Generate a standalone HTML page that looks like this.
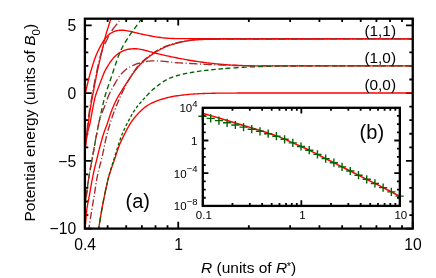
<!DOCTYPE html>
<html><head><meta charset="utf-8"><title>Potential energy curves</title><style>html,body{margin:0;padding:0;background:#fff;overflow:hidden}body{width:436px;height:278px;font-family:"Liberation Sans",sans-serif}svg{display:block;will-change:transform}</style></head><body>
<svg width="436" height="278" viewBox="0 0 436 278"><defs><clipPath id="cm"><rect x="84.9" y="18.7" width="327.85" height="209.9"/></clipPath></defs><rect width="436" height="278" fill="#fff"/><path d="M84.9,228.6h6.8M412.75,228.6h-6.8M84.9,215.05h3.4M412.75,215.05h-3.4M84.9,201.49h3.4M412.75,201.49h-3.4M84.9,187.94h3.4M412.75,187.94h-3.4M84.9,174.39h3.4M412.75,174.39h-3.4M84.9,160.83h6.8M412.75,160.83h-6.8M84.9,147.28h3.4M412.75,147.28h-3.4M84.9,133.73h3.4M412.75,133.73h-3.4M84.9,120.18h3.4M412.75,120.18h-3.4M84.9,106.62h3.4M412.75,106.62h-3.4M84.9,93.07h6.8M412.75,93.07h-6.8M84.9,79.52h3.4M412.75,79.52h-3.4M84.9,65.96h3.4M412.75,65.96h-3.4M84.9,52.41h3.4M412.75,52.41h-3.4M84.9,38.86h3.4M412.75,38.86h-3.4M84.9,25.3h6.8M412.75,25.3h-6.8M84.9,228.6v-6.8M84.9,18.7v6.8M107.63,228.6v-3.4M107.63,18.7v3.4M126.2,228.6v-3.4M126.2,18.7v3.4M141.9,228.6v-3.4M141.9,18.7v3.4M155.5,228.6v-3.4M155.5,18.7v3.4M167.5,228.6v-3.4M167.5,18.7v3.4M178.23,228.6v-6.8M178.23,18.7v6.8M248.83,228.6v-3.4M248.83,18.7v3.4M290.12,228.6v-3.4M290.12,18.7v3.4M319.42,228.6v-3.4M319.42,18.7v3.4M342.15,228.6v-3.4M342.15,18.7v3.4M360.72,228.6v-3.4M360.72,18.7v3.4M376.42,228.6v-3.4M376.42,18.7v3.4M390.02,228.6v-3.4M390.02,18.7v3.4M402.02,228.6v-3.4M402.02,18.7v3.4M412.75,228.6v-6.8M412.75,18.7v6.8" stroke="#000" stroke-width="1.8" fill="none"/>
<g fill="none" clip-path="url(#cm)" stroke-linejoin="round">
<path d="M83.99,240L84.14,238.5L84.28,237L84.41,235.49L84.53,233.99L84.66,232.49L84.8,230.98L84.94,229.48L85.08,227.98L85.23,226.48L85.38,224.98L85.53,223.48L85.67,221.98L85.8,220.48L85.92,218.97L86.04,217.46L86.17,215.96L86.3,214.46L86.44,212.95L86.61,211.46L86.78,209.96L86.98,208.47L87.2,206.98L87.43,205.49L87.68,204L87.96,202.52L88.25,201.04L88.55,199.56L88.85,198.08L89.15,196.6L89.44,195.12L89.72,193.64L89.98,192.15L90.23,190.66L90.48,189.17L90.72,187.68L90.97,186.2L91.23,184.71L91.49,183.23L91.77,181.74L92.05,180.26L92.35,178.78L92.64,177.31L92.95,175.83L93.26,174.35L93.58,172.88L93.9,171.41L94.23,169.94L94.57,168.47L94.91,167L95.26,165.53L95.61,164.06L95.97,162.6L96.33,161.13L96.69,159.67L97.06,158.2L97.42,156.74L97.78,155.27L98.14,153.81L98.5,152.34L98.87,150.88L99.24,149.42L99.61,147.95L99.99,146.49L100.37,145.03L100.76,143.57L101.15,142.11L101.55,140.66L101.95,139.21L102.36,137.76L102.79,136.31L103.23,134.87L103.69,133.44L104.18,132.02L104.69,130.6L105.22,129.18L105.76,127.77L106.3,126.36L106.82,124.94L107.33,123.52L107.82,122.09L108.28,120.66L108.73,119.22L109.18,117.78L109.64,116.35L110.11,114.91L110.6,113.48L111.11,112.06L111.64,110.65L112.19,109.24L112.76,107.84L113.34,106.44L113.93,105.06L114.54,103.68L115.17,102.31L115.82,100.96L116.49,99.61L117.19,98.28L117.91,96.96L118.66,95.64L119.43,94.34L120.22,93.05L121.01,91.77L121.82,90.49L122.63,89.21L123.44,87.94L124.26,86.67L125.07,85.4L125.89,84.14L126.71,82.86L127.54,81.59L128.36,80.31L129.19,79.04L130.02,77.77L130.87,76.5L131.72,75.25L132.58,74.01L133.45,72.79L134.34,71.58L135.25,70.38L136.18,69.21L137.13,68.04L138.1,66.9L139.1,65.77L140.12,64.66L141.16,63.57L142.24,62.5L143.33,61.46L144.45,60.45L145.59,59.46L146.75,58.51L147.93,57.57L149.13,56.66L150.35,55.76L151.58,54.88L152.82,54.02L154.07,53.17L155.34,52.34L156.62,51.53L157.91,50.75L159.22,50L160.54,49.27L161.88,48.58L163.23,47.92L164.6,47.3L165.99,46.71L167.39,46.15L168.81,45.64L170.24,45.15L171.68,44.7L173.13,44.26L174.58,43.85L176.04,43.45L177.5,43.06L178.97,42.68L180.43,42.31L181.9,41.96L183.37,41.63L184.85,41.33L186.33,41.04L187.82,40.79L189.31,40.55L190.81,40.34L192.31,40.16L193.81,40.01L195.31,39.88L196.81,39.77L198.32,39.68L199.82,39.61L201.33,39.55L202.84,39.5L204.35,39.45L205.85,39.41L207.36,39.37L208.87,39.34L210.38,39.31L211.89,39.29L213.4,39.26L214.9,39.25L216.41,39.23L217.92,39.22L219.43,39.2L220.94,39.19L222.45,39.19L223.95,39.18L225.46,39.17L226.97,39.17L228.48,39.17L229.99,39.16L231.5,39.16L233,39.15L234.51,39.15L236.02,39.15L237.53,39.14L239.04,39.14L240.55,39.14L242.05,39.13L243.56,39.13L245.07,39.13L246.58,39.13L248.09,39.12L249.6,39.12L251.1,39.12L252.61,39.12L254.12,39.11L255.63,39.11L257.14,39.11L258.65,39.1L260.15,39.1L261.66,39.1L263.17,39.09L264.68,39.09L266.19,39.08L267.7,39.08L269.2,39.08L270.71,39.07L272.22,39.07L273.73,39.06L275.24,39.06L276.74,39.06L278.25,39.05L279.76,39.05L281.27,39.05L282.78,39.04L284.29,39.04L285.79,39.03L287.3,39.03L288.81,39.03L290.32,39.02L291.83,39.02L293.34,39.02L294.84,39.01L296.35,39.01L297.86,39L299.37,39L300.88,39L302.39,38.99L303.89,38.99L305.4,38.99L306.91,38.98L308.42,38.98L309.93,38.98L311.44,38.97L312.94,38.97L314.45,38.97L315.96,38.96L317.47,38.96L318.98,38.96L320.49,38.95L321.99,38.95L323.5,38.95L325.01,38.94L326.52,38.94L328.03,38.94L329.54,38.93L331.04,38.93L332.55,38.93L334.06,38.92L335.57,38.92L337.08,38.92L338.59,38.92L340.09,38.91L341.6,38.91L343.11,38.91L344.62,38.91L346.13,38.9L347.63,38.9L349.14,38.9L350.65,38.9L352.16,38.9L353.67,38.9L355.18,38.89L356.68,38.89L358.19,38.89L359.7,38.89L361.21,38.89L362.72,38.89L364.23,38.88L365.73,38.88L367.24,38.88L368.75,38.88L370.26,38.88L371.77,38.88L373.28,38.87L374.78,38.87L376.29,38.87L377.8,38.87L379.31,38.87L380.82,38.87L382.33,38.87L383.83,38.87L385.34,38.86L386.85,38.86L388.36,38.86L389.87,38.86L391.38,38.86L392.88,38.86L394.39,38.86L395.9,38.86L397.41,38.86L398.92,38.85L400.43,38.85L401.93,38.85L403.44,38.85L404.95,38.85L406.46,38.85L407.97,38.85L409.48,38.85L410.98,38.85L412.49,38.85L414,38.85" stroke="#ff0000" stroke-width="1.35"/>
<path d="M84,100L84.29,98.52L84.59,97.03L84.9,95.55L85.21,94.08L85.53,92.6L85.85,91.13L86.18,89.65L86.51,88.18L86.85,86.7L87.2,85.23L87.55,83.75L87.9,82.28L88.26,80.82L88.62,79.35L88.99,77.89L89.37,76.42L89.76,74.97L90.16,73.51L90.58,72.06L91,70.61L91.44,69.16L91.89,67.71L92.34,66.27L92.8,64.82L93.26,63.38L93.72,61.94L94.2,60.5L94.69,59.07L95.2,57.65L95.74,56.24L96.31,54.84L96.9,53.45L97.53,52.07L98.18,50.71L98.85,49.35L99.53,48.01L100.22,46.67L100.93,45.34L101.66,44.03L102.41,42.73L103.2,41.45L104.03,40.19L104.92,38.96L105.86,37.76L106.87,36.61L107.93,35.52L109.06,34.5L110.25,33.58L111.52,32.76L112.84,32.06L114.22,31.47L115.65,31L117.11,30.64L118.6,30.38L120.1,30.24L121.61,30.19L123.12,30.24L124.63,30.36L126.14,30.55L127.64,30.8L129.13,31.1L130.61,31.43L132.07,31.78L133.54,32.15L135,32.53L136.46,32.91L137.92,33.27L139.39,33.62L140.86,33.95L142.34,34.27L143.82,34.58L145.31,34.87L146.79,35.17L148.28,35.46L149.76,35.75L151.25,36.03L152.73,36.31L154.22,36.57L155.71,36.83L157.2,37.06L158.7,37.28L160.19,37.49L161.69,37.67L163.19,37.84L164.7,37.99L166.2,38.12L167.71,38.24L169.22,38.34L170.73,38.42L172.24,38.48L173.75,38.54L175.26,38.58L176.77,38.61L178.28,38.63L179.79,38.65L181.3,38.66L182.81,38.67L184.32,38.67L185.83,38.68L187.35,38.69L188.86,38.69L190.37,38.7L191.88,38.7L193.39,38.7L194.9,38.7L196.41,38.69L197.92,38.68L199.43,38.67L200.95,38.66L202.46,38.65L203.97,38.64L205.48,38.63L206.99,38.62L208.5,38.6L210.01,38.59L211.52,38.58L213.03,38.57L214.54,38.57L216.06,38.56L217.57,38.56L219.08,38.55L220.59,38.55L222.1,38.55L223.61,38.55L225.12,38.55L226.63,38.55L228.14,38.55L229.65,38.56L231.17,38.56L232.68,38.56L234.19,38.56L235.7,38.56L237.21,38.56L238.72,38.56L240.23,38.57L241.74,38.57L243.25,38.57L244.77,38.57L246.28,38.58L247.79,38.58L249.3,38.58L250.81,38.58L252.32,38.59L253.83,38.59L255.34,38.59L256.85,38.59L258.36,38.6L259.88,38.6L261.39,38.6L262.9,38.61L264.41,38.61L265.92,38.61L267.43,38.61L268.94,38.62L270.45,38.62L271.96,38.63L273.47,38.63L274.99,38.63L276.5,38.64L278.01,38.64L279.52,38.65L281.03,38.65L282.54,38.65L284.05,38.66L285.56,38.66L287.07,38.67L288.58,38.67L290.1,38.68L291.61,38.68L293.12,38.68L294.63,38.69L296.14,38.69L297.65,38.69L299.16,38.7L300.67,38.7L302.18,38.7L303.7,38.71L305.21,38.71L306.72,38.72L308.23,38.72L309.74,38.72L311.25,38.73L312.76,38.73L314.27,38.73L315.78,38.74L317.29,38.74L318.81,38.74L320.32,38.75L321.83,38.75L323.34,38.75L324.85,38.76L326.36,38.76L327.87,38.76L329.38,38.77L330.89,38.77L332.4,38.77L333.92,38.77L335.43,38.78L336.94,38.78L338.45,38.78L339.96,38.79L341.47,38.79L342.98,38.79L344.49,38.79L346,38.79L347.51,38.8L349.03,38.8L350.54,38.8L352.05,38.8L353.56,38.8L355.07,38.81L356.58,38.81L358.09,38.81L359.6,38.81L361.11,38.81L362.63,38.81L364.14,38.82L365.65,38.82L367.16,38.82L368.67,38.82L370.18,38.82L371.69,38.82L373.2,38.83L374.71,38.83L376.22,38.83L377.74,38.83L379.25,38.83L380.76,38.83L382.27,38.83L383.78,38.83L385.29,38.84L386.8,38.84L388.31,38.84L389.82,38.84L391.33,38.84L392.85,38.84L394.36,38.84L395.87,38.84L397.38,38.84L398.89,38.85L400.4,38.85L401.91,38.85L403.42,38.85L404.93,38.85L406.44,38.85L407.96,38.85L409.47,38.85L410.98,38.85L412.49,38.85L414,38.85" stroke="#ff0000" stroke-width="1.35"/>
<path d="M88.6,232L88.74,230.5L88.89,229L89.06,227.5L89.25,226.01L89.45,224.52L89.67,223.02L89.9,221.53L90.13,220.05L90.38,218.56L90.63,217.07L90.88,215.58L91.13,214.1L91.38,212.61L91.63,211.12L91.88,209.63L92.12,208.15L92.37,206.66L92.61,205.17L92.86,203.69L93.1,202.2L93.35,200.71L93.6,199.22L93.84,197.74L94.08,196.25L94.31,194.76L94.55,193.27L94.77,191.78L95,190.28L95.23,188.79L95.45,187.3L95.68,185.81L95.92,184.32L96.16,182.83L96.4,181.35L96.66,179.87L96.93,178.38L97.22,176.91L97.52,175.43L97.84,173.96L98.17,172.49L98.52,171.03L98.88,169.56L99.24,168.1L99.62,166.64L100,165.18L100.39,163.72L100.77,162.26L101.14,160.8L101.51,159.34L101.86,157.87L102.2,156.4L102.54,154.93L102.86,153.46L103.17,151.98L103.48,150.51L103.78,149.03L104.08,147.55L104.38,146.07L104.68,144.59L104.98,143.11L105.28,141.64L105.6,140.17L105.93,138.7L106.26,137.23L106.61,135.76L106.98,134.3L107.36,132.85L107.76,131.39L108.17,129.94L108.6,128.5L109.03,127.05L109.47,125.61L109.91,124.17L110.36,122.73L110.81,121.29L111.26,119.85L111.72,118.42L112.19,116.99L112.68,115.56L113.18,114.14L113.7,112.72L114.23,111.31L114.78,109.9L115.33,108.5L115.89,107.1L116.46,105.7L117.03,104.31L117.61,102.92L118.2,101.53L118.79,100.15L119.39,98.76L120,97.38L120.61,96L121.23,94.62L121.86,93.24L122.51,91.88L123.16,90.52L123.82,89.17L124.5,87.83L125.19,86.5L125.89,85.17L126.61,83.84L127.33,82.51L128.07,81.19L128.82,79.86L129.58,78.53L130.35,77.21L131.14,75.91L131.93,74.61L132.74,73.33L133.56,72.08L134.4,70.84L135.27,69.62L136.16,68.42L137.08,67.25L138.03,66.1L139.02,64.97L140.05,63.86L141.1,62.78L142.19,61.73L143.29,60.7L144.43,59.7L145.58,58.72L146.75,57.77L147.94,56.85L149.15,55.94L150.37,55.05L151.6,54.18L152.84,53.32L154.1,52.48L155.37,51.66L156.66,50.87L157.96,50.1L159.27,49.36L160.6,48.66L161.95,47.98L163.31,47.34L164.69,46.73L166.08,46.15L167.49,45.61L168.91,45.11L170.34,44.63L171.78,44.19L173.23,43.76L174.69,43.36L176.15,42.97L177.61,42.59L179.08,42.23L180.55,41.88L182.02,41.55L183.5,41.25L184.98,40.96L186.46,40.7L187.95,40.46L189.45,40.25L190.95,40.07L192.44,39.91L193.95,39.77L195.45,39.66L196.95,39.57L198.46,39.5L199.96,39.44L201.47,39.39L202.98,39.35L204.48,39.32L205.99,39.28L207.5,39.25L209.01,39.22L210.51,39.2L212.02,39.17L213.53,39.15L215.04,39.14L216.54,39.12L218.05,39.11L219.56,39.1L221.07,39.1L222.57,39.09L224.08,39.08L225.59,39.08L227.09,39.07L228.6,39.07L230.11,39.06L231.62,39.06L233.12,39.05L234.63,39.05L236.14,39.04L237.65,39.04L239.15,39.04L240.66,39.03L242.17,39.03L243.67,39.03L245.18,39.02L246.69,39.02L248.2,39.02L249.7,39.02L251.21,39.01L252.72,39.01L254.23,39.01L255.73,39.01L257.24,39L258.75,39L260.26,39L261.76,39L263.27,38.99L264.78,38.99L266.28,38.99L267.79,38.99L269.3,38.99L270.81,38.98L272.31,38.98L273.82,38.98L275.33,38.98L276.84,38.98L278.34,38.98L279.85,38.97L281.36,38.97L282.86,38.97L284.37,38.97L285.88,38.97L287.39,38.97L288.89,38.96L290.4,38.96L291.91,38.96L293.42,38.96L294.92,38.96L296.43,38.96L297.94,38.95L299.45,38.95L300.95,38.95L302.46,38.95L303.97,38.94L305.47,38.94L306.98,38.94L308.49,38.93L310,38.93L311.5,38.93L313.01,38.92L314.52,38.92L316.03,38.91L317.53,38.91L319.04,38.91L320.55,38.9L322.05,38.9L323.56,38.89L325.07,38.89L326.58,38.89L328.08,38.88L329.59,38.88L331.1,38.88L332.61,38.87L334.11,38.87L335.62,38.87L337.13,38.86L338.63,38.86L340.14,38.86L341.65,38.86L343.16,38.85L344.66,38.85L346.17,38.85L347.68,38.85L349.19,38.85L350.69,38.85L352.2,38.85L353.71,38.85L355.22,38.85L356.72,38.85L358.23,38.85L359.74,38.85L361.24,38.85L362.75,38.85L364.26,38.85L365.77,38.85L367.27,38.85L368.78,38.85L370.29,38.85L371.8,38.85L373.3,38.85L374.81,38.85L376.32,38.85L377.82,38.85L379.33,38.85L380.84,38.85L382.35,38.85L383.85,38.85L385.36,38.85L386.87,38.85L388.38,38.85L389.88,38.85L391.39,38.85L392.9,38.85L394.41,38.85L395.91,38.85L397.42,38.85L398.93,38.85L400.43,38.85L401.94,38.85L403.45,38.85L404.96,38.85L406.46,38.85L407.97,38.85L409.48,38.85L410.99,38.85L412.49,38.85L414,38.85" stroke="#a52a2a" stroke-width="1.35" stroke-dasharray="7.3,2.2,1.2,2.2"/>
<path d="M98,232L98.26,230.51L98.52,229.03L98.78,227.54L99.03,226.06L99.28,224.57L99.53,223.08L99.78,221.59L100.03,220.1L100.28,218.62L100.53,217.13L100.78,215.64L101.03,214.15L101.28,212.67L101.54,211.18L101.8,209.69L102.06,208.21L102.33,206.72L102.6,205.24L102.88,203.76L103.16,202.28L103.45,200.8L103.74,199.32L104.03,197.84L104.33,196.36L104.63,194.88L104.94,193.4L105.24,191.92L105.55,190.44L105.87,188.96L106.19,187.49L106.51,186.01L106.84,184.54L107.18,183.07L107.53,181.6L107.88,180.14L108.26,178.68L108.64,177.23L109.04,175.78L109.46,174.33L109.89,172.89L110.34,171.45L110.81,170.02L111.29,168.59L111.79,167.17L112.29,165.74L112.8,164.32L113.31,162.89L113.81,161.47L114.31,160.04L114.8,158.61L115.28,157.18L115.76,155.75L116.24,154.32L116.71,152.88L117.18,151.45L117.66,150.02L118.15,148.59L118.65,147.17L119.17,145.76L119.73,144.36L120.31,142.97L120.92,141.59L121.55,140.22L122.2,138.86L122.87,137.5L123.54,136.15L124.21,134.79L124.88,133.44L125.56,132.08L126.25,130.74L126.95,129.4L127.67,128.07L128.4,126.75L129.15,125.44L129.92,124.14L130.73,122.87L131.56,121.61L132.42,120.38L133.33,119.18L134.26,118L135.23,116.84L136.22,115.7L137.24,114.58L138.27,113.47L139.33,112.37L140.4,111.3L141.49,110.25L142.61,109.23L143.76,108.24L144.93,107.3L146.14,106.4L147.39,105.55L148.66,104.75L149.96,104L151.29,103.29L152.65,102.63L154.02,102.02L155.42,101.45L156.84,100.91L158.26,100.41L159.7,99.93L161.14,99.46L162.58,99.01L164.03,98.57L165.48,98.16L166.94,97.76L168.4,97.39L169.86,97.05L171.34,96.75L172.82,96.47L174.31,96.21L175.8,95.98L177.29,95.76L178.79,95.55L180.28,95.35L181.78,95.16L183.28,94.97L184.78,94.8L186.28,94.63L187.78,94.48L189.28,94.33L190.78,94.2L192.28,94.09L193.79,93.98L195.29,93.88L196.8,93.8L198.3,93.72L199.81,93.65L201.32,93.6L202.83,93.54L204.34,93.49L205.84,93.45L207.35,93.4L208.86,93.36L210.37,93.32L211.87,93.28L213.38,93.25L214.89,93.22L216.4,93.19L217.91,93.17L219.42,93.15L220.92,93.13L222.43,93.11L223.94,93.1L225.45,93.09L226.96,93.08L228.47,93.08L229.97,93.07L231.48,93.06L232.99,93.06L234.5,93.05L236.01,93.05L237.52,93.04L239.02,93.04L240.53,93.03L242.04,93.03L243.55,93.02L245.06,93.02L246.57,93.01L248.08,93.01L249.58,93.01L251.09,93.01L252.6,93.01L254.11,93L255.62,93L257.13,93L258.63,93L260.14,93L261.65,93L263.16,93L264.67,93L266.18,93L267.68,93L269.19,93L270.7,93L272.21,93L273.72,93L275.23,93L276.73,93L278.24,93L279.75,93L281.26,93L282.77,93L284.28,93L285.79,93L287.29,93L288.8,93L290.31,93L291.82,93L293.33,93L294.84,93L296.34,93L297.85,93L299.36,93L300.87,93L302.38,93L303.89,93L305.39,93L306.9,93L308.41,93L309.92,93L311.43,93L312.94,93L314.45,93L315.95,93L317.46,93L318.97,93L320.48,93L321.99,93L323.5,93L325,93L326.51,93L328.02,93L329.53,93L331.04,93L332.55,93L334.05,93L335.56,93L337.07,93L338.58,93L340.09,93L341.6,93L343.1,93L344.61,93L346.12,93L347.63,93L349.14,93L350.65,93L352.16,93L353.66,93L355.17,93L356.68,93L358.19,93L359.7,93L361.21,93L362.71,93L364.22,93L365.73,93L367.24,93L368.75,93L370.26,93L371.76,93L373.27,93L374.78,93L376.29,93L377.8,93L379.31,93L380.82,93L382.32,93L383.83,93L385.34,93L386.85,93L388.36,93L389.87,93L391.37,93L392.88,93L394.39,93L395.9,93L397.41,93L398.92,93L400.42,93L401.93,93L403.44,93L404.95,93L406.46,93L407.97,93L409.47,93L410.98,93L412.49,93L414,93" stroke="#ff0000" stroke-width="1.35"/>
<path d="M84,160L84.14,158.5L84.29,156.99L84.44,155.49L84.59,153.99L84.75,152.49L84.91,150.99L85.09,149.49L85.26,147.99L85.44,146.49L85.63,144.99L85.81,143.49L86,141.99L86.18,140.49L86.38,138.99L86.58,137.5L86.81,136.01L87.08,134.52L87.38,133.05L87.73,131.58L88.12,130.12L88.53,128.66L88.95,127.21L89.36,125.75L89.75,124.29L90.09,122.82L90.4,121.34L90.68,119.86L90.95,118.37L91.2,116.89L91.46,115.4L91.72,113.91L92,112.42L92.28,110.94L92.57,109.45L92.86,107.97L93.15,106.48L93.43,104.99L93.72,103.5L94,102.01L94.31,100.52L94.64,99.05L94.99,97.58L95.39,96.13L95.83,94.7L96.3,93.28L96.8,91.86L97.31,90.45L97.84,89.05L98.38,87.63L98.92,86.22L99.47,84.8L100.01,83.38L100.54,81.96L101.08,80.54L101.6,79.12L102.13,77.71L102.65,76.3L103.2,74.9L103.77,73.51L104.37,72.14L105.02,70.78L105.72,69.44L106.46,68.12L107.24,66.81L108.05,65.52L108.88,64.25L109.72,62.98L110.57,61.73L111.44,60.51L112.35,59.31L113.3,58.14L114.3,57.03L115.36,55.96L116.49,54.95L117.69,54.01L118.94,53.13L120.24,52.33L121.58,51.6L122.95,50.96L124.36,50.4L125.79,49.92L127.24,49.52L128.71,49.21L130.19,48.97L131.69,48.81L133.2,48.73L134.71,48.73L136.23,48.79L137.74,48.91L139.24,49.1L140.74,49.34L142.22,49.64L143.69,49.98L145.15,50.35L146.6,50.74L148.06,51.15L149.51,51.56L150.97,51.96L152.42,52.35L153.89,52.74L155.35,53.11L156.81,53.48L158.28,53.84L159.75,54.2L161.22,54.54L162.69,54.88L164.16,55.21L165.64,55.54L167.11,55.87L168.59,56.19L170.06,56.51L171.54,56.82L173.02,57.13L174.5,57.43L175.98,57.74L177.46,58.03L178.94,58.32L180.42,58.61L181.9,58.89L183.39,59.17L184.87,59.44L186.36,59.71L187.84,59.98L189.33,60.24L190.82,60.5L192.31,60.75L193.8,60.98L195.29,61.21L196.79,61.43L198.28,61.64L199.78,61.84L201.28,62.04L202.77,62.23L204.27,62.43L205.77,62.62L207.27,62.82L208.77,63L210.26,63.19L211.76,63.36L213.26,63.53L214.77,63.68L216.27,63.83L217.77,63.97L219.27,64.11L220.78,64.24L222.28,64.37L223.79,64.51L225.29,64.63L226.8,64.76L228.31,64.87L229.81,64.98L231.32,65.07L232.83,65.16L234.33,65.23L235.84,65.29L237.35,65.35L238.86,65.4L240.37,65.45L241.87,65.51L243.38,65.55L244.89,65.6L246.4,65.65L247.91,65.69L249.42,65.73L250.93,65.76L252.44,65.8L253.95,65.83L255.46,65.85L256.97,65.87L258.48,65.88L259.99,65.89L261.5,65.9L263.01,65.9L264.52,65.9L266.03,65.9L267.54,65.9L269.05,65.9L270.56,65.9L272.07,65.9L273.58,65.9L275.09,65.9L276.6,65.9L278.11,65.9L279.62,65.9L281.13,65.9L282.64,65.9L284.15,65.9L285.66,65.9L287.17,65.9L288.68,65.9L290.19,65.9L291.7,65.9L293.21,65.9L294.72,65.9L296.23,65.9L297.74,65.9L299.25,65.9L300.76,65.9L302.27,65.9L303.78,65.9L305.29,65.9L306.8,65.9L308.31,65.9L309.82,65.9L311.33,65.9L312.84,65.9L314.35,65.9L315.86,65.9L317.37,65.9L318.88,65.9L320.39,65.9L321.9,65.9L323.41,65.9L324.92,65.9L326.43,65.9L327.94,65.9L329.45,65.9L330.96,65.9L332.47,65.9L333.98,65.9L335.49,65.9L337,65.9L338.51,65.9L340.02,65.9L341.53,65.9L343.04,65.9L344.55,65.9L346.06,65.9L347.57,65.9L349.08,65.9L350.59,65.9L352.1,65.9L353.6,65.9L355.11,65.9L356.62,65.9L358.13,65.9L359.64,65.9L361.15,65.9L362.66,65.9L364.17,65.9L365.68,65.9L367.19,65.9L368.7,65.9L370.21,65.9L371.72,65.9L373.23,65.9L374.74,65.9L376.25,65.9L377.76,65.9L379.27,65.9L380.78,65.9L382.29,65.9L383.8,65.9L385.31,65.9L386.82,65.9L388.33,65.9L389.84,65.9L391.35,65.9L392.86,65.9L394.37,65.9L395.88,65.9L397.39,65.9L398.9,65.9L400.41,65.9L401.92,65.9L403.43,65.9L404.94,65.9L406.45,65.9L407.96,65.9L409.47,65.9L410.98,65.9L412.49,65.9L414,65.9" stroke="#ff0000" stroke-width="1.35"/>
<path d="M143.79,14.99L143.05,16.33L142.26,17.63L141.45,18.91L140.6,20.18L139.73,21.43L138.85,22.66L137.95,23.89L137.05,25.12L136.14,26.34L135.23,27.56L134.33,28.79L133.43,30.01L132.53,31.24L131.65,32.48L130.77,33.73L129.9,34.98L129.05,36.24L128.21,37.5L127.38,38.78L126.57,40.07L125.77,41.37L124.99,42.67L124.22,43.99L123.47,45.31L122.74,46.65L122.03,47.99L121.34,49.35L120.67,50.71L120.04,52.09L119.44,53.49L118.88,54.9L118.34,56.33L117.82,57.76L117.32,59.2L116.83,60.64L116.34,62.09L115.85,63.53L115.35,64.97L114.86,66.41L114.37,67.85L113.89,69.29L113.4,70.73L112.93,72.18L112.45,73.62L111.98,75.07L111.5,76.51L111.02,77.96L110.54,79.4L110.05,80.84L109.55,82.28L109.06,83.72L108.56,85.16L108.06,86.6L107.57,88.04L107.08,89.48L106.6,90.92L106.13,92.37L105.68,93.82L105.25,95.27L104.83,96.74L104.44,98.21L104.07,99.68L103.72,101.16L103.37,102.65L103.03,104.13L102.69,105.62L102.35,107.1L102.01,108.59L101.67,110.07L101.34,111.56L101.01,113.04L100.68,114.53L100.35,116.02L100.03,117.5L99.72,118.99L99.4,120.48L99.09,121.97L98.78,123.46L98.48,124.95L98.18,126.44L97.88,127.94L97.58,129.43L97.29,130.92L97,132.42L96.71,133.91L96.42,135.41L96.14,136.9L95.86,138.4L95.58,139.89L95.31,141.39L95.04,142.89L94.77,144.38L94.5,145.88L94.24,147.38L93.97,148.88L93.71,150.38L93.44,151.88L93.17,153.38L92.9,154.87L92.63,156.37L92.36,157.87L92.08,159.36L91.8,160.86L91.52,162.36L91.23,163.85L90.95,165.35L90.67,166.84L90.39,168.34L90.12,169.84L89.85,171.34L89.59,172.83L89.33,174.33L89.08,175.83L88.85,177.34L88.62,178.84L88.4,180.35L88.19,181.85L87.98,183.36L87.77,184.87L87.57,186.38L87.37,187.88L87.17,189.39L86.98,190.9L86.78,192.41L86.57,193.92L86.37,195.43L86.16,196.94L85.94,198.44L85.73,199.95L85.52,201.46L85.3,202.96L85.08,204.47L84.87,205.98L84.65,207.48L84.44,208.99L84.22,210.49L84,212" stroke="#006400" stroke-width="1.35" stroke-dasharray="5.2,3.1" stroke-dashoffset="4.8"/>
<path d="M98,232L98.26,230.51L98.52,229.03L98.78,227.54L99.03,226.05L99.29,224.56L99.54,223.07L99.79,221.58L100.03,220.09L100.28,218.6L100.53,217.11L100.78,215.62L101.03,214.13L101.28,212.65L101.54,211.16L101.8,209.67L102.07,208.18L102.33,206.7L102.61,205.21L102.88,203.73L103.17,202.25L103.45,200.76L103.75,199.28L104.04,197.8L104.34,196.32L104.65,194.84L104.95,193.36L105.27,191.88L105.58,190.41" stroke="#006400" stroke-width="1.35" stroke-dasharray="6,3.5"/><path d="M105.58,190.41L105.9,188.93L106.23,187.45L106.55,185.98L106.89,184.5L107.22,183.03L107.57,181.56L107.92,180.1L108.29,178.63L108.66,177.17L109.04,175.71L109.43,174.25L109.83,172.8L110.25,171.35L110.67,169.9L111.1,168.45L111.54,167.01L111.98,165.56L112.43,164.12L112.88,162.68L113.34,161.23L113.79,159.79L114.25,158.35L114.7,156.91L115.15,155.47L115.6,154.03L116.04,152.58L116.48,151.14L116.92,149.69L117.36,148.24L117.8,146.79L118.24,145.34L118.7,143.9L119.16,142.46L119.63,141.03L120.12,139.6L120.62,138.19L121.15,136.78L121.69,135.37L122.25,133.98L122.84,132.58L123.45,131.2L124.07,129.82L124.71,128.45L125.37,127.09L126.04,125.73L126.72,124.38L127.4,123.04L128.1,121.69L128.8,120.36L129.51,119.02L130.22,117.68L130.94,116.35L131.67,115.01L132.41,113.69L133.18,112.39L133.97,111.11L134.8,109.85L135.66,108.62L136.56,107.42L137.48,106.24L138.44,105.07L139.41,103.92L140.39,102.77L141.38,101.63L142.39,100.49L143.4,99.36L144.42,98.23L145.44,97.11L146.47,96" stroke="#006400" stroke-width="1.35" stroke-dasharray="3.1,2.1"/><path d="M146.47,96L147.5,94.9L148.55,93.81L149.6,92.73L150.67,91.67L151.76,90.63L152.87,89.61L154,88.62L155.16,87.64L156.33,86.69L157.53,85.75L158.74,84.84L159.97,83.95L161.2,83.07L162.45,82.22L163.72,81.4L165,80.62L166.31,79.88L167.64,79.18L169,78.53L170.39,77.93L171.8,77.38L173.22,76.86L174.66,76.38L176.11,75.93L177.56,75.5L179.02,75.1L180.48,74.72L181.94,74.35L183.41,74.01L184.88,73.68L186.36,73.38L187.84,73.09L189.33,72.81L190.82,72.54L192.31,72.29L193.8,72.05L195.3,71.81L196.79,71.59L198.28,71.37L199.78,71.16L201.27,70.95L202.77,70.75L204.27,70.56L205.77,70.38L207.27,70.21L208.77,70.04L210.27,69.87L211.77,69.71L213.28,69.56L214.78,69.42L216.28,69.27L217.79,69.13L219.29,69L220.79,68.86L222.3,68.73L223.8,68.6L225.31,68.47" stroke="#006400" stroke-width="1.35" stroke-dasharray="4.5,2.7"/><path d="M225.31,68.47L226.81,68.35L228.32,68.23L229.82,68.12L231.33,68.01L232.84,67.9L234.34,67.8L235.85,67.71L237.36,67.62L238.86,67.53L240.37,67.44L241.88,67.36L243.39,67.27L244.89,67.19L246.4,67.11L247.91,67.03L249.42,66.96L250.93,66.89L252.44,66.82L253.95,66.76L255.46,66.7L256.96,66.64L258.47,66.59L259.98,66.55L261.49,66.5L263,66.46L264.51,66.42L266.02,66.39L267.53,66.35L269.04,66.32L270.55,66.28L272.06,66.25L273.57,66.22L275.08,66.18L276.59,66.15L278.1,66.12L279.61,66.1L281.12,66.07L282.63,66.05L284.14,66.03L285.65,66.01L287.16,65.99L288.67,65.98L290.18,65.97L291.69,65.96L293.2,65.95L294.71,65.95L296.22,65.94L297.73,65.94L299.24,65.94L300.75,65.94L302.26,65.93L303.77,65.93L305.28,65.93L306.79,65.93L308.3,65.92L309.81,65.92L311.32,65.92L312.83,65.92L314.34,65.92L315.85,65.91L317.36,65.91L318.87,65.91L320.38,65.91L321.89,65.91L323.4,65.91L324.91,65.91L326.42,65.9L327.93,65.9L329.44,65.9L330.95,65.9L332.46,65.9L333.97,65.9L335.48,65.9L336.99,65.9L338.5,65.9L340.01,65.9L341.52,65.9L343.03,65.9L344.54,65.9L346.05,65.9L347.56,65.9L349.07,65.9L350.58,65.9L352.09,65.9L353.6,65.9L355.11,65.9L356.62,65.9L358.13,65.9L359.64,65.9L361.15,65.9L362.66,65.9L364.17,65.9L365.68,65.9L367.19,65.9L368.7,65.9L370.21,65.9L371.72,65.9L373.23,65.9L374.74,65.9L376.25,65.9L377.76,65.9L379.27,65.9L380.78,65.9L382.29,65.9L383.8,65.9L385.31,65.9L386.82,65.9L388.33,65.9L389.84,65.9L391.35,65.9L392.86,65.9L394.37,65.9L395.88,65.9L397.39,65.9L398.9,65.9L400.41,65.9L401.92,65.9L403.43,65.9L404.94,65.9L406.45,65.9L407.96,65.9L409.47,65.9L410.98,65.9L412.49,65.9L414,65.9" stroke="#006400" stroke-width="1.35" stroke-dasharray="5.1,3.1"/>
<path d="M84,212L84.22,210.51L84.44,209.01L84.66,207.52L84.87,206.02L85.09,204.53L85.3,203.03L85.52,201.54L85.73,200.04L85.94,198.55L86.15,197.05L86.36,195.56L86.57,194.06L86.77,192.57L86.97,191.07L87.16,189.57L87.36,188.07L87.55,186.58L87.75,185.08L87.95,183.58L88.16,182.09L88.37,180.59L88.58,179.1L88.81,177.6L89.04,176.11L89.28,174.62L89.53,173.14L89.79,171.65L90.06,170.16L90.33,168.68L90.61,167.19L90.88,165.71L91.16,164.22L91.44,162.74L91.72,161.25L92,159.77L92.28,158.28L92.55,156.8L92.82,155.31L93.09,153.83L93.36,152.34L93.62,150.85L93.88,149.37L94.13,147.88L94.39,146.39L94.64,144.9L94.9,143.41L95.17,141.92L95.44,140.44L95.72,138.96L96.01,137.48L96.31,136L96.61,134.52L96.91,133.04L97.2,131.55L97.49,130.06L97.76,128.56L98.04,127.06L98.32,125.56L98.61,124.06L98.93,122.58L99.28,121.11L99.67,119.66L100.09,118.22L100.54,116.8L101.03,115.39L101.54,113.98L102.09,112.59L102.65,111.19L103.23,109.8L103.81,108.41L104.39,107.01L104.95,105.61L105.49,104.2L106,102.77L106.5,101.34L106.99,99.91L107.48,98.48L108,97.06L108.55,95.66L109.15,94.28L109.8,92.92L110.48,91.57L111.18,90.23L111.9,88.9L112.63,87.58L113.36,86.25L114.1,84.93L114.84,83.62L115.59,82.31L116.37,81.01L117.16,79.73L117.97,78.45L118.82,77.2L119.71,75.97L120.63,74.77L121.59,73.61L122.61,72.49L123.68,71.43L124.8,70.42L125.97,69.47L127.18,68.57L128.44,67.73L129.74,66.96L131.07,66.25L132.44,65.61L133.83,65.01L135.24,64.47L136.67,63.96L138.11,63.5L139.56,63.06L141.02,62.65L142.47,62.27L143.94,61.93L145.41,61.64L146.9,61.39L148.39,61.19L149.89,61.05L151.4,60.95L152.92,60.9L154.44,60.89L155.95,60.9L157.46,60.94L158.97,61L160.47,61.09L161.98,61.19L163.47,61.31L164.97,61.45L166.47,61.61L167.97,61.79L169.48,61.97L170.98,62.15L172.49,62.33L173.99,62.5L175.5,62.64L177.01,62.76L178.51,62.86L180.02,62.95L181.52,63.02L183.03,63.1L184.54,63.17L186.05,63.25L187.55,63.34L189.06,63.43L190.57,63.52L192.08,63.61L193.59,63.7L195.09,63.78L196.6,63.87L198.11,63.95L199.62,64.03L201.12,64.11L202.63,64.19L204.14,64.27L205.65,64.34L207.16,64.42L208.66,64.49L210.17,64.56L211.68,64.63L213.19,64.7L214.7,64.76L216.21,64.83L217.72,64.89L219.22,64.95L220.73,65.01L222.24,65.07L223.75,65.12L225.26,65.18L226.77,65.24L228.28,65.29L229.79,65.34L231.3,65.38L232.81,65.42L234.32,65.46L235.83,65.5L237.33,65.53L238.84,65.56L240.35,65.6L241.86,65.63L243.37,65.66L244.88,65.69L246.39,65.72L247.9,65.75L249.41,65.78L250.92,65.8L252.43,65.83L253.94,65.85L255.45,65.86L256.96,65.88L258.47,65.89L259.98,65.9L261.49,65.9L263,65.9L264.51,65.9L266.02,65.9L267.53,65.9L269.04,65.9L270.55,65.9L272.06,65.9L273.57,65.9L275.08,65.9L276.59,65.9L278.1,65.9L279.61,65.9L281.12,65.9L282.63,65.9L284.14,65.9L285.65,65.9L287.16,65.9L288.67,65.9L290.18,65.9L291.69,65.9L293.2,65.9L294.71,65.9L296.22,65.9L297.73,65.9L299.24,65.9L300.75,65.9L302.26,65.9L303.77,65.9L305.28,65.9L306.79,65.9L308.3,65.9L309.81,65.9L311.32,65.9L312.83,65.9L314.34,65.9L315.85,65.9L317.36,65.9L318.87,65.9L320.38,65.9L321.89,65.9L323.4,65.9L324.91,65.9L326.42,65.9L327.93,65.9L329.44,65.9L330.95,65.9L332.46,65.9L333.97,65.9L335.48,65.9L336.99,65.9L338.5,65.9L340.01,65.9L341.52,65.9L343.03,65.9L344.54,65.9L346.05,65.9L347.56,65.9L349.07,65.9L350.58,65.9L352.09,65.9L353.6,65.9L355.11,65.9L356.62,65.9L358.13,65.9L359.64,65.9L361.15,65.9L362.66,65.9L364.17,65.9L365.68,65.9L367.19,65.9L368.7,65.9L370.21,65.9L371.72,65.9L373.23,65.9L374.74,65.9L376.25,65.9L377.76,65.9L379.27,65.9L380.78,65.9L382.29,65.9L383.8,65.9L385.31,65.9L386.82,65.9L388.33,65.9L389.84,65.9L391.35,65.9L392.86,65.9L394.37,65.9L395.88,65.9L397.39,65.9L398.9,65.9L400.41,65.9L401.92,65.9L403.43,65.9L404.94,65.9L406.45,65.9L407.96,65.9L409.47,65.9L410.98,65.9L412.49,65.9L414,65.9" stroke="#a52a2a" stroke-width="1.35" stroke-dasharray="8.4,2.5,1,2.5"/>
<path d="M111.81,16L111.31,17.44L110.83,18.89L110.37,20.35L109.92,21.81L109.47,23.26L109.01,24.72L108.55,26.17L108.07,27.63L107.6,29.08L107.13,30.53L106.67,31.99L106.23,33.45L105.81,34.91L105.41,36.38L105.02,37.86L104.65,39.34L104.3,40.82L103.95,42.3L103.61,43.79L103.28,45.28L102.94,46.77L102.61,48.26L102.28,49.75L101.95,51.24L101.6,52.73L101.26,54.22L100.91,55.7L100.56,57.19L100.21,58.67L99.86,60.16L99.51,61.64L99.16,63.13L98.82,64.62L98.49,66.11L98.16,67.6L97.83,69.09L97.51,70.58L97.19,72.07L96.87,73.56L96.56,75.06L96.26,76.55L95.96,78.05L95.66,79.54L95.36,81.04L95.07,82.54L94.78,84.04L94.49,85.54L94.21,87.03L93.93,88.53L93.65,90.03L93.37,91.53L93.09,93.04L92.82,94.54L92.54,96.04L92.27,97.54L91.99,99.04L91.72,100.54L91.45,102.05L91.18,103.55L90.92,105.05L90.66,106.56L90.41,108.06L90.17,109.57L89.93,111.07L89.7,112.58L89.49,114.09L89.28,115.6L89.08,117.11L88.89,118.63L88.71,120.14L88.54,121.66L88.36,123.17L88.2,124.69L88.03,126.21L87.86,127.73L87.69,129.24L87.52,130.76L87.34,132.28L87.15,133.79L86.95,135.3L86.75,136.82L86.55,138.33L86.35,139.84L86.14,141.35L85.93,142.86L85.72,144.38L85.52,145.89L85.32,147.4L85.12,148.91L84.93,150.43L84.74,151.94L84.55,153.46L84.37,154.97L84.18,156.49L84,158" stroke="#ff0000" stroke-width="1.35"/>
<path d="M121.15,15.98L120.77,17.48L120.22,18.9L119.54,20.25L118.75,21.53L117.88,22.78L116.96,23.99L116.02,25.18L115.07,26.38L114.13,27.57L113.2,28.77L112.31,30L111.46,31.25L110.66,32.53L109.9,33.85L109.19,35.19L108.5,36.55L107.83,37.92L107.16,39.29L106.48,40.65L105.8,42.01L105.12,43.37L104.45,44.74L103.81,46.11L103.2,47.49L102.62,48.89L102.09,50.31L101.6,51.75L101.14,53.19L100.71,54.65L100.31,56.12L99.92,57.59L99.55,59.06L99.19,60.54L98.84,62.02L98.51,63.5L98.17,64.98L97.84,66.46L97.52,67.95L97.2,69.44L96.88,70.92L96.56,72.41L96.25,73.9L95.94,75.38L95.63,76.87L95.33,78.36L95.03,79.85L94.74,81.34L94.45,82.83L94.16,84.32L93.88,85.81L93.6,87.31L93.32,88.8L93.05,90.29L92.77,91.79L92.5,93.28L92.22,94.78L91.95,96.27L91.67,97.77L91.4,99.26L91.13,100.75L90.86,102.25L90.59,103.74L90.33,105.24L90.08,106.74L89.83,108.24L89.59,109.74L89.35,111.24L89.13,112.74L88.92,114.24L88.71,115.75L88.52,117.25L88.33,118.76L88.16,120.26L87.99,121.77L87.83,123.28L87.67,124.79L87.51,126.31L87.35,127.82L87.18,129.33L87.01,130.84L86.82,132.34L86.63,133.85L86.43,135.36L86.23,136.86L86.02,138.37L85.82,139.87L85.61,141.38L85.4,142.88L85.2,144.39L85.02,145.89L84.84,147.4L84.69,148.91L84.55,150.42L84.43,151.94L84.32,153.45L84.21,154.97L84.1,156.48L83.99,158" stroke="#a52a2a" stroke-width="1.35" stroke-dasharray="9,2.5,1,2.5" stroke-dashoffset="6.2"/>
</g>
<rect x="84.9" y="18.7" width="327.85" height="209.9" fill="none" stroke="#000" stroke-width="2.3"/>
<rect x="202.8" y="107.8" width="197.05" height="98.1" fill="#fff"/>
<path d="M202.8,205.9h5.6M399.85,205.9h-5.6M202.8,197.73h2.9M399.85,197.73h-2.9M202.8,189.55h2.9M399.85,189.55h-2.9M202.8,181.38h2.9M399.85,181.38h-2.9M202.8,173.2h5.6M399.85,173.2h-5.6M202.8,165.03h2.9M399.85,165.03h-2.9M202.8,156.85h2.9M399.85,156.85h-2.9M202.8,148.68h2.9M399.85,148.68h-2.9M202.8,140.5h5.6M399.85,140.5h-5.6M202.8,132.32h2.9M399.85,132.32h-2.9M202.8,124.15h2.9M399.85,124.15h-2.9M202.8,115.97h2.9M399.85,115.97h-2.9M202.8,107.8h5.6M399.85,107.8h-5.6M202.8,205.9v-5.6M202.8,107.8v5.6M232.46,205.9v-2.9M232.46,107.8v2.9M249.81,205.9v-2.9M249.81,107.8v2.9M262.12,205.9v-2.9M262.12,107.8v2.9M271.67,205.9v-2.9M271.67,107.8v2.9M279.47,205.9v-2.9M279.47,107.8v2.9M286.06,205.9v-2.9M286.06,107.8v2.9M291.78,205.9v-2.9M291.78,107.8v2.9M296.82,205.9v-2.9M296.82,107.8v2.9M301.33,205.9v-5.6M301.33,107.8v5.6M330.98,205.9v-2.9M330.98,107.8v2.9M348.33,205.9v-2.9M348.33,107.8v2.9M360.64,205.9v-2.9M360.64,107.8v2.9M370.19,205.9v-2.9M370.19,107.8v2.9M377.99,205.9v-2.9M377.99,107.8v2.9M384.59,205.9v-2.9M384.59,107.8v2.9M390.3,205.9v-2.9M390.3,107.8v2.9M395.34,205.9v-2.9M395.34,107.8v2.9M399.85,205.9v-5.6M399.85,107.8v5.6" stroke="#000" stroke-width="1.8" fill="none"/>
<path d="M202.5,113.3C203.87,113.68 207.97,114.82 210.71,115.6C213.45,116.38 216.18,117.19 218.92,118C221.66,118.81 224.39,119.62 227.13,120.45C229.87,121.28 232.6,122.17 235.34,123C238.08,123.83 240.82,124.63 243.55,125.45C246.29,126.27 249.03,127.08 251.76,127.9C254.5,128.72 257.24,129.48 259.97,130.35C262.71,131.22 265.45,132.18 268.18,133.1C270.92,134.02 273.66,134.89 276.39,135.9C279.13,136.91 281.87,137.99 284.6,139.15C287.34,140.31 290.08,141.62 292.81,142.85C295.55,144.07 298.29,145.28 301.03,146.5C303.76,147.72 306.5,148.88 309.24,150.2C311.97,151.52 314.71,153 317.45,154.4C320.18,155.8 322.92,157.22 325.66,158.6C328.39,159.98 331.13,161.32 333.87,162.7C336.6,164.08 339.34,165.52 342.08,166.9C344.81,168.28 347.55,169.62 350.29,171C353.02,172.38 355.76,173.82 358.5,175.2C361.23,176.58 363.97,177.93 366.71,179.3C369.45,180.68 372.18,182.07 374.92,183.45C377.66,184.83 380.39,186.19 383.13,187.6C385.87,189.01 388.6,190.47 391.34,191.9C394.08,193.33 398.18,195.44 399.55,196.15" stroke="#ff0000" stroke-width="1.5" fill="none"/>
<path d="M198.4,116.3h8.2M202.5,112.2v8.2M206.61,118.4h8.2M210.71,114.3v8.2M214.82,120.6h8.2M218.92,116.5v8.2M223.03,122.8h8.2M227.13,118.7v8.2M231.24,125h8.2M235.34,120.9v8.2M239.45,127.1h8.2M243.55,123v8.2M247.66,129.2h8.2M251.76,125.1v8.2M255.87,131.3h8.2M259.97,127.2v8.2M264.08,133.7h8.2M268.18,129.6v8.2M272.29,136.2h8.2M276.39,132.1v8.2M280.5,139.3h8.2M284.6,135.2v8.2M288.71,142.9h8.2M292.81,138.8v8.2M296.93,146.5h8.2M301.03,142.4v8.2M305.14,150.2h8.2M309.24,146.1v8.2M313.35,154.4h8.2M317.45,150.3v8.2M321.56,158.6h8.2M325.66,154.5v8.2M329.77,162.7h8.2M333.87,158.6v8.2M337.98,166.9h8.2M342.08,162.8v8.2M346.19,171h8.2M350.29,166.9v8.2M354.4,175.2h8.2M358.5,171.1v8.2M362.61,179.3h8.2M366.71,175.2v8.2M370.82,183.45h8.2M374.92,179.35v8.2M379.03,187.6h8.2M383.13,183.5v8.2M387.24,191.9h8.2M391.34,187.8v8.2M395.45,196.15h8.2M399.55,192.05v8.2" stroke="#006400" stroke-width="1.4" fill="none"/>
<rect x="202.8" y="107.8" width="197.05" height="98.1" fill="none" stroke="#000" stroke-width="2.3"/>
<g font-family="'Liberation Sans', sans-serif" fill="#000">
<text x="76.2" y="31" font-size="15.7" text-anchor="end">5</text>
<text x="76.2" y="98.77" font-size="15.7" text-anchor="end">0</text>
<text x="76.2" y="166.53" font-size="15.7" text-anchor="end">−5</text>
<text x="76.2" y="234.3" font-size="15.7" text-anchor="end">−10</text>
<text x="85.2" y="250" font-size="15.7" text-anchor="middle">0.4</text>
<text x="178.53" y="250" font-size="15.7" text-anchor="middle">1</text>
<text x="413.05" y="250" font-size="15.7" text-anchor="middle">10</text>
<text x="364.4" y="35.6" font-size="15.4">(1,1)</text>
<text x="364.4" y="62.7" font-size="15.4">(1,0)</text>
<text x="364.4" y="89.8" font-size="15.4">(0,0)</text>
<text x="125.5" y="207.8" font-size="20">(a)</text>
<text x="359.6" y="138.8" font-size="20">(b)</text>
<text x="201" y="272.6" font-size="15.5"><tspan font-style="italic">R</tspan> (units of <tspan font-style="italic">R</tspan><tspan dy="-3" dx="-0.5" font-size="11">*</tspan><tspan dy="3">)</tspan></text>
<text transform="translate(35.2,221.6) rotate(-90)" font-size="15.5"><tspan>Potential energy (units of </tspan><tspan font-style="italic">B</tspan><tspan dy="4.6" font-size="11.5">0</tspan><tspan dy="-4.6">)</tspan></text>
<text x="197.5" y="112.1" font-size="11.5" text-anchor="end">10<tspan dy="-5.3" font-size="9.5">4</tspan></text>
<text x="197.5" y="144.8" font-size="11.5" text-anchor="end">1</text>
<text x="197.5" y="177.5" font-size="11.5" text-anchor="end">10<tspan dy="-5.3" font-size="9.5">−4</tspan></text>
<text x="197.5" y="210.2" font-size="11.5" text-anchor="end">10<tspan dy="-5.3" font-size="9.5">−8</tspan></text>
<text x="203.8" y="219.4" font-size="11.5" text-anchor="middle">0.1</text>
<text x="302.33" y="219.4" font-size="11.5" text-anchor="middle">1</text>
<text x="400.85" y="219.4" font-size="11.5" text-anchor="middle">10</text>
</g></svg>
</body></html>
